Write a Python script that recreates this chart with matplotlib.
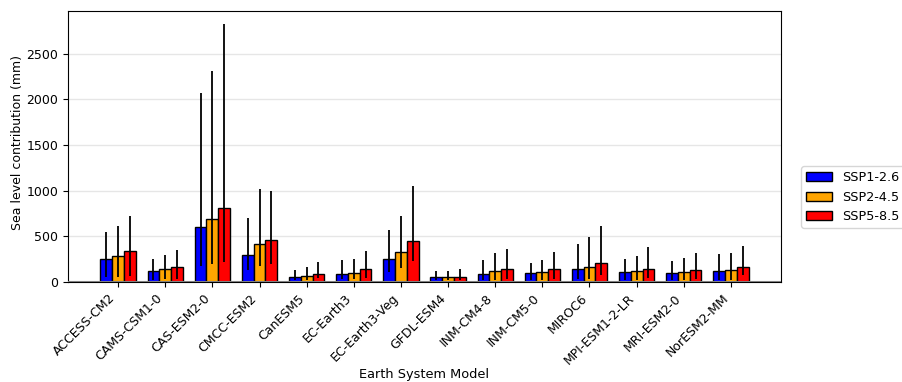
import numpy as np
import matplotlib
matplotlib.use("Agg")
import matplotlib.pyplot as plt

models = ["ACCESS-CM2", "CAMS-CSM1-0", "CAS-ESM2-0", "CMCC-ESM2", "CanESM5",
          "EC-Earth3", "EC-Earth3-Veg", "GFDL-ESM4", "INM-CM4-8", "INM-CM5-0",
          "MIROC6", "MPI-ESM1-2-LR", "MRI-ESM2-0", "NorESM2-MM"]

ssp126 = [249, 117, 600, 293, 52, 92, 252, 52, 92, 99, 143, 110, 99, 125]
ssp126_lo = [55, 26, 179, 136, 19, 30, 106, 26, 20, 19, 33, 26, 26, 26]
ssp126_hi = [548, 252, 2065, 695, 128, 238, 567, 124, 238, 212, 421, 256, 234, 304]

ssp245 = [282, 142, 690, 417, 62, 95, 329, 52, 125, 106, 169, 117, 110, 132]
ssp245_lo = [55, 37, 194, 179, 26, 30, 153, 19, 26, 22, 37, 26, 26, 26]
ssp245_hi = [614, 300, 2313, 1013, 168, 249, 720, 121, 322, 241, 493, 285, 260, 315]

ssp585 = [340, 161, 815, 457, 88, 147, 449, 55, 139, 147, 213, 147, 136, 165]
ssp585_lo = [62, 37, 219, 201, 44, 48, 230, 26, 37, 33, 73, 40, 33, 73]
ssp585_hi = [720, 347, 2824, 994, 216, 336, 1049, 139, 366, 333, 618, 380, 322, 399]

labels = ["SSP1-2.6", "SSP2-4.5", "SSP5-8.5"]
colors = ["blue", "orange", "red"]

plt.rcParams["font.size"] = 9

fig = plt.figure(figsize=(9.03, 3.82), dpi=100)
ax = fig.add_axes([68/903, 1 - 282/382, (781-68)/903, (282-11)/382])

x = np.arange(len(models))
w = 0.25
series = [(ssp126, ssp126_lo, ssp126_hi), (ssp245, ssp245_lo, ssp245_hi), (ssp585, ssp585_lo, ssp585_hi)]
for i, ((v, lo, hi), lab, c) in enumerate(zip(series, labels, colors)):
    v = np.array(v, float); lo = np.array(lo, float); hi = np.array(hi, float)
    yerr = np.vstack([v - lo, hi - v])
    ax.bar(x + (i - 1) * w, v, w, color=c, edgecolor="black", linewidth=1, label=lab,
           yerr=yerr, error_kw=dict(ecolor="black", elinewidth=1.3, capsize=0), zorder=3)

ax.axhline(0, color="grey", linewidth=1.5, zorder=4)
ax.grid(axis="y", color="#e6e6e6", linewidth=1, zorder=0)
ax.set_axisbelow(True)
ax.set_xticks(x)
ax.set_xticklabels(models, rotation=45, ha="right")
ax.set_yticks([0, 500, 1000, 1500, 2000, 2500])
ax.set_xlabel("Earth System Model", fontsize=9.3)
ax.set_ylabel("Sea level contribution (mm)")
ax.xaxis.set_label_coords(0.5, (282 - 368) / 271)
ax.yaxis.set_label_coords((24 - 68) / 713, (282 - 142) / 271)
ax.legend(loc="upper left", bbox_to_anchor=(801/903, 1 - 166/382),
          bbox_transform=fig.transFigure, borderaxespad=0, fontsize=9.2)

fig.savefig("out.png", dpi=100)
